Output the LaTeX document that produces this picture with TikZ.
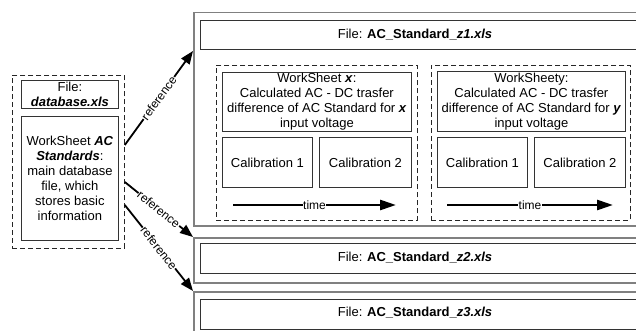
\documentclass[tikz,border=0pt]{standalone}
\usepackage{fontspec}
\setmainfont{Liberation Sans}
\usetikzlibrary{arrows.meta,calc}
\begin{document}
\begin{tikzpicture}[x=1pt,y=-1pt,
  every node/.style={font=\fontsize{13}{15}\selectfont},
  box/.style={draw=black!80, line width=0.8pt, inner sep=0pt, anchor=north west, align=center},
  dbox/.style={draw=black!85, line width=0.8pt, dash pattern=on 5pt off 3pt, inner sep=0pt, anchor=north west},
  obox/.style={draw=black!50, line width=1.5pt, inner sep=0pt, anchor=north west},
  refarrow/.style={line width=1.8pt, -{Triangle[length=13pt,width=10pt]}},
  timearrow/.style={line width=2.6pt, -{Triangle[length=16pt,width=10pt]}},
  reflabel/.style={fill=white, inner sep=0.6pt, font=\fontsize{12}{14}\selectfont, sloped},
  timelabel/.style={fill=white, inner sep=0.6pt, font=\fontsize{12}{14}\selectfont},
  ftext/.style={font=\fontsize{13}{15}\selectfont}
]
\useasboundingbox (0,0) rectangle (636,331);
\clip (0,0) rectangle (636,331);

% outer file frames
\node[obox, minimum width=520pt, minimum height=213pt] (z1) at (193,12) {};
\node[obox, minimum width=520pt, minimum height=45pt] (z2) at (193,237) {};
\node[obox, minimum width=520pt, minimum height=60pt] (z3) at (193,291) {};

% file title boxes
\node[box, minimum width=480pt, minimum height=29pt] (z1f) at (200,20) {};
\node[ftext] (z1t) at (415,34.5) {File: \textbf{AC\_Standard\_\textit{z1.xls}}};
\node[box, minimum width=480pt, minimum height=30pt] (z2f) at (200,243) {};
\node[ftext] (z2t) at (415,258) {File: \textbf{AC\_Standard\_\textit{z2.xls}}};
\node[box, minimum width=480pt, minimum height=30.5pt] (z3f) at (200,298.5) {};
\node[ftext] (z3t) at (415,312.5) {File: \textbf{AC\_Standard\_\textit{z3.xls}}};

% left database
\node[dbox, minimum width=112pt, minimum height=173pt] (lc) at (12,75) {};
\node[box, minimum width=97pt, minimum height=28pt] (dbfile) at (21,80) {File:\\\textbf{\textit{database.xls}}};
\node[box, minimum width=97pt, minimum height=124pt] (wsac) at (21,116)
  {WorkSheet \textbf{\textit{AC}}\\\textbf{\textit{Standards}}:\\main database\\file, which\\stores basic\\information};

% worksheet x
\node[dbox, minimum width=201pt, minimum height=155pt] (wx) at (216,65) {};
\node[box, minimum width=189pt, minimum height=59pt] (wxh) at (222,72)
  {WorkSheet \textbf{\textit{x}}:\\Calculated AC - DC trasfer\\difference of AC Standard for \textbf{\textit{x}}\\input voltage};
\node[box, minimum width=90pt, minimum height=50pt] (wxc1) at (222,137) {Calibration 1};
\node[box, minimum width=92pt, minimum height=50pt] (wxc2) at (319,137) {Calibration 2};
\coordinate (wxa) at (233,205);
\coordinate (wxb) at (396,205);
\draw[timearrow] (wxa) -- node[timelabel] {time} (wxb);

% worksheet y
\node[dbox, minimum width=199pt, minimum height=155pt] (wy) at (431,65) {};
\node[box, minimum width=188pt, minimum height=60pt] (wyh) at (437,71)
  {WorkSheety:\\Calculated AC - DC trasfer\\difference of AC Standard for \textbf{\textit{y}}\\input voltage};
\node[box, minimum width=90pt, minimum height=50pt] (wyc1) at (437,137) {Calibration 1};
\node[box, minimum width=91pt, minimum height=50pt] (wyc2) at (534,137) {Calibration 2};
\coordinate (wya) at (447,205);
\coordinate (wyb) at (613,205);
\draw[timearrow] (wya) -- node[timelabel] {time} (wyb);

% reference arrows
\draw[refarrow] (lc.east |- 0,145) -- node[reflabel] {reference} (z1.west |- 0,51);
\draw[refarrow] (lc.east |- 0,182) -- node[reflabel] {reference} (z2.north west);
\draw[refarrow] (lc.east |- 0,205) -- node[reflabel] {reference} (z3.north west);
\end{tikzpicture}
\end{document}
